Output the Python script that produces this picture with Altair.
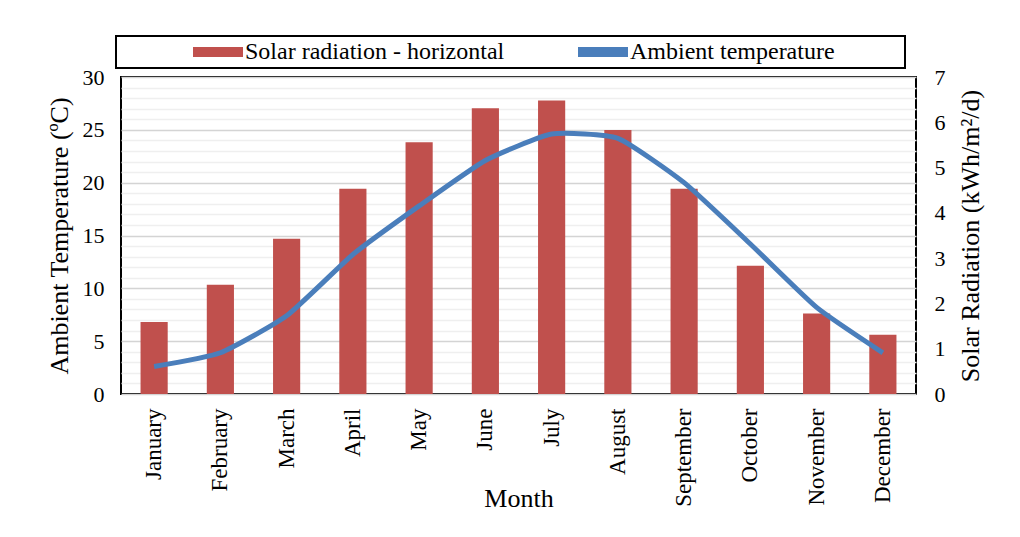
import altair as alt
import pandas as pd

months = ["January", "February", "March", "April", "May", "June",
          "July", "August", "September", "October", "November", "December"]
solar_radiation = [1.59, 2.41, 3.43, 4.53, 5.56, 6.31, 6.48, 5.83, 4.53, 2.83, 1.78, 1.31]
ambient_temp = [2.6, 3.9, 7.4, 13.2, 17.8, 22.1, 24.6, 24.2, 20.0, 14.2, 8.2, 3.9]
series_names = ["Solar radiation - horizontal", "Ambient temperature"]
temp_ticks = list(range(0, 31))
solar_ticks = list(range(0, 8))

df = pd.DataFrame({"Month": months, "Solar": solar_radiation, "Temp": ambient_temp})
df["SolarSeries"] = series_names[0]
df["TempSeries"] = series_names[1]

FONT = "Liberation Serif"
NB = "\u00a0"
ZW = "\u200b"

color_scale = alt.Scale(domain=series_names, range=["#C0504D", "#4A7EBB"])

x_enc = alt.X(
    "Month:N", sort=months,
    scale=alt.Scale(paddingInner=0.59, paddingOuter=0.295),
    axis=alt.Axis(title="Month", labelAngle=270, labelFontSize=23, labelPadding=14,
                  titleFontSize=26, titleY=104, titleBaseline="middle",
                  domain=False, ticks=False, grid=False),
)

legend = alt.Legend(
    title=NB, titleOrient="left", titlePadding=86, titleFontSize=4,
    orient="none", legendX=-5, legendY=-41, direction="horizontal",
    symbolType="M-2.5,-0.5H2.5V0.5H-2.5Z", symbolSize=400, symbolStrokeWidth=0,
    labelFont=FONT, labelFontSize=24, labelColor="black", labelLimit=1000,
    labelOffset=15, columnPadding=73, padding=4,
    strokeColor="black", fillColor="white",
    labelExpr="datum.label == 'Ambient temperature' ? datum.label + '" + NB * 11 + ZW + "' : datum.label",
)

bars = alt.Chart(df).mark_bar().encode(
    x=x_enc,
    y=alt.Y("Solar:Q", scale=alt.Scale(domain=[0, 7], nice=False),
            axis=alt.Axis(orient="right", values=solar_ticks, title="Solar Radiation (kWh/m²/d)",
                          grid=False, labelFontSize=22, labelPadding=18, titleFontSize=26,
                          titleAngle=270, titleBaseline="top", titlePadding=12,
                          domain=False, ticks=False)),
    color=alt.Color("SolarSeries:N", scale=color_scale, legend=legend),
)

line = alt.Chart(df).mark_line(strokeWidth=5, interpolate="cardinal", tension=0.5).encode(
    x=x_enc,
    y=alt.Y("Temp:Q", scale=alt.Scale(domain=[0, 30], nice=False),
            axis=alt.Axis(orient="left", values=temp_ticks, title="Ambient Temperature (ºC)",
                          labelExpr="datum.value % 5 == 0 ? datum.label : ''",
                          grid=True,
                          gridColor={"condition": {"test": "datum.value % 5 == 0", "value": "#d4d4d4"},
                                     "value": "#efefef"},
                          gridWidth=1.5,
                          labelFontSize=22, labelPadding=17, titleFontSize=26, titlePadding=10,
                          domain=False, ticks=False)),
    color=alt.Color("TempSeries:N", scale=color_scale, legend=legend),
)

chart = (
    alt.layer(bars, line)
    .resolve_scale(y="independent")
    .properties(width=795, height=317, padding={"left": 38, "top": 27, "right": 5, "bottom": 5},
                background="white")
    .configure_view(stroke="black", strokeWidth=2)
    .configure_axis(labelFont=FONT, titleFont=FONT, labelColor="black", titleColor="black",
                    titleFontWeight="normal")
    .configure_legend(strokeWidth=2)
)

chart.save("out.html", embed_options={"renderer": "svg", "actions": False})
